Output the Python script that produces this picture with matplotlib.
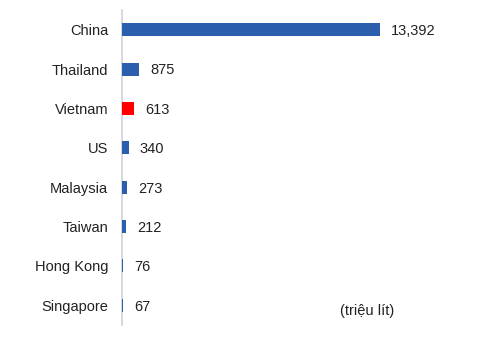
import matplotlib
matplotlib.use("Agg")
import matplotlib.pyplot as plt

countries = ["China", "Thailand", "Vietnam", "US", "Malaysia", "Taiwan", "Hong Kong", "Singapore"]
values = [13392, 875, 613, 340, 273, 212, 76, 67]
colors = ["#2b5fad", "#2b5fad", "#ff0000", "#2b5fad", "#2b5fad", "#2b5fad", "#2b5fad", "#2b5fad"]
unit_label = "(triệu lít)"

plt.rcParams["font.family"] = ["Liberation Sans", "DejaVu Sans"]

fig = plt.figure(figsize=(4.9, 3.42), dpi=100)
ax = fig.add_axes([122 / 490, 17 / 342, 1 - 122 / 490, 315 / 342])

pos = list(range(len(countries)))
ax.barh(pos, values, height=0.33, color=colors, zorder=3)
ax.set_ylim(len(countries) - 0.5, -0.5)
ax.set_xlim(0, 19100)

for p, v in zip(pos, values):
    ax.annotate(f"{v:,}", (v, p), xytext=(8, -1), textcoords="offset points",
                va="center", ha="left", fontsize=10.5, color="#222222")

ax.set_yticks(pos)
ax.set_yticklabels(countries, fontsize=10.5, color="#222222")
ax.tick_params(axis="y", length=0, pad=10)
ax.set_xticks([])

for s in ["top", "right", "bottom"]:
    ax.spines[s].set_visible(False)
ax.spines["left"].set_color("#d0d2dc")
ax.spines["left"].set_linewidth(1.2)
ax.spines["left"].set_zorder(1)

fig.text(367 / 490, 1 - 311 / 342, unit_label, ha="center", va="center", fontsize=10.5, color="#222222")

fig.savefig("out.png", dpi=100)
